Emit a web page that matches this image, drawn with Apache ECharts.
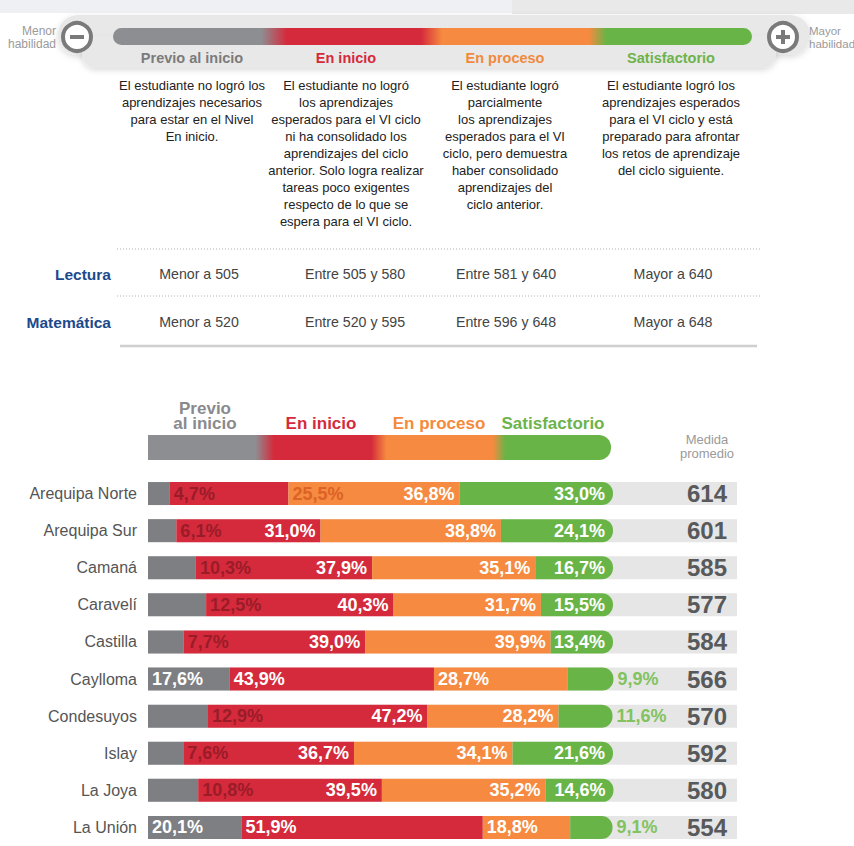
<!DOCTYPE html>
<html>
<head>
<meta charset="utf-8">
<script src="https://cdn.jsdelivr.net/npm/echarts@6/dist/echarts.min.js"></script>
<style>
  html, body { margin: 0; padding: 0; background: #fff; overflow: hidden; }
  #chart { width: 854px; height: 846px; }
</style>
</head>
<body>
<div id="chart"></div>
<script>
(function() {
  // --- data ---
  var regions = ['Arequipa Norte', 'Arequipa Sur', 'Camaná', 'Caravelí', 'Castilla', 'Caylloma', 'Condesuyos', 'Islay', 'La Joya', 'La Unión'];
  var previo = [4.7, 6.1, 10.3, 12.5, 7.7, 17.6, 12.9, 7.6, 10.8, 20.1];
  var enInicio = [25.5, 31.0, 37.9, 40.3, 39.0, 43.9, 47.2, 36.7, 39.5, 51.9];
  var enProceso = [36.8, 38.8, 35.1, 31.7, 39.9, 28.7, 28.2, 34.1, 35.2, 18.8];
  var satisfactorio = [33.0, 24.1, 16.7, 15.5, 13.4, 9.9, 11.6, 21.6, 14.6, 9.1];
  var medida = [614, 601, 585, 577, 584, 566, 570, 592, 580, 554];

  var levels = ['Previo al inicio', 'En inicio', 'En proceso', 'Satisfactorio'];
  var levelDesc = [
    'El estudiante no logró los\naprendizajes necesarios\npara estar en el Nivel\nEn inicio.',
    'El estudiante no logró\nlos aprendizajes\nesperados para el VI ciclo\nni ha consolidado los\naprendizajes del ciclo\nanterior. Solo logra realizar\ntareas poco exigentes\nrespecto de lo que se\nespera para el VI ciclo.',
    'El estudiante logró\nparcialmente\nlos aprendizajes\nesperados para el VI\nciclo, pero demuestra\nhaber consolidado\naprendizajes del\nciclo anterior.',
    'El estudiante logró los\naprendizajes esperados\npara el VI ciclo y está\npreparado para afrontar\nlos retos de aprendizaje\ndel ciclo siguiente.'
  ];
  var lectura = ['Menor a 505', 'Entre 505 y 580', 'Entre 581 y 640', 'Mayor a 640'];
  var matematica = ['Menor a 520', 'Entre 520 y 595', 'Entre 596 y 648', 'Mayor a 648'];

  // label placement per cell: i = inside right, o = outside right, l = inside left
  var labelModes = [
    'ooii', 'oiii', 'oiii', 'oiii', 'oiii', 'lllo', 'oiio', 'oiii', 'oiii', 'lllo'
  ];

  var font = "'Liberation Sans', Arial, sans-serif";
  var gray = '#7e7f83', red = '#d52a3b', orange = '#f58a40', green = '#69b447';
  var segColors = [gray, red, orange, green];
  var outColors = ['#9a1c29', '#dc6226', '#dc6226', '#82c25f'];
  var colX = [192, 346, 505, 671];

  function fmt(v) { return v.toFixed(1).replace('.', ',') + '%'; }

  function buildData(values, k) {
    return values.map(function(v, r) {
      var m = labelModes[r].charAt(k);
      var lab;
      if (m === 'o') lab = { position: 'right', distance: 4, color: outColors[k] };
      else if (m === 'l') lab = { position: 'insideLeft', distance: 4, color: '#fff' };
      else lab = { position: 'insideRight', distance: k === 3 ? 8 : 5, color: '#fff' };
      return { value: v, label: lab };
    });
  }

  function grad(stops) {
    return { type: 'linear', x: 0, y: 0, x2: 1, y2: 0, colorStops: stops };
  }
  var gradStops = [
    { offset: 0, color: '#8d8e92' }, { offset: 0.232, color: '#8d8e92' },
    { offset: 0.272, color: red }, { offset: 0.482, color: red },
    { offset: 0.515, color: orange }, { offset: 0.745, color: orange },
    { offset: 0.772, color: green }, { offset: 1, color: green }
  ];

  // --- graphic (header, legend, thresholds) ---
  var g = [];
  g.push({ type: 'rect', shape: { x: 0, y: 0, width: 512, height: 13 }, style: { fill: '#eef0f3' }, silent: true });
  g.push({ type: 'rect', shape: { x: 512, y: 0, width: 342, height: 14 }, style: { fill: '#e9e9e9' }, silent: true });
  g.push({ type: 'rect', shape: { x: 58, y: 15, width: 752, height: 40, r: 20 },
    style: { fill: '#e8e8e8', shadowBlur: 6, shadowColor: 'rgba(0,0,0,0.15)', shadowOffsetY: 2 }, silent: true });
  g.push({ type: 'rect', shape: { x: 82, y: 38, width: 694, height: 30, r: 14 },
    style: { fill: '#e8e8e8', shadowBlur: 6, shadowColor: 'rgba(0,0,0,0.15)', shadowOffsetY: 2 }, silent: true });
  g.push({ type: 'rect', shape: { x: 82, y: 36, width: 694, height: 20 }, style: { fill: '#e8e8e8' }, silent: true });
  g.push({ type: 'rect', shape: { x: 113, y: 28, width: 639, height: 17, r: 8.5 }, style: { fill: grad(gradStops) }, silent: true });
  // minus / plus circles
  [77, 783].forEach(function(cx, i) {
    g.push({ type: 'circle', shape: { cx: cx, cy: 37, r: 14 }, style: { fill: '#fff', stroke: '#7a7a7a', lineWidth: 4 }, silent: true });
    g.push({ type: 'line', shape: { x1: cx - 7, y1: 37, x2: cx + 7, y2: 37 }, style: { stroke: '#7a7a7a', lineWidth: 4 }, silent: true });
    if (i === 1) g.push({ type: 'line', shape: { x1: cx, y1: 30, x2: cx, y2: 44 }, style: { stroke: '#7a7a7a', lineWidth: 4 }, silent: true });
  });
  g.push({ type: 'text', x: 56, y: 37, style: { text: 'Menor\nhabilidad', font: '12px ' + font, fill: '#9a9a9a', align: 'right', verticalAlign: 'middle', lineHeight: 13 }, silent: true });
  g.push({ type: 'text', x: 809, y: 37, style: { text: 'Mayor\nhabilidad', font: '11.5px ' + font, fill: '#9a9a9a', align: 'left', verticalAlign: 'middle', lineHeight: 13 }, silent: true });

  var topLabelColors = ['#7b7b7b', '#d42a3b', '#f08a3c', '#6db34b'];
  levels.forEach(function(t, i) {
    g.push({ type: 'text', x: colX[i], y: 58, style: { text: t, font: 'bold 14.5px ' + font, fill: topLabelColors[i], align: 'center', verticalAlign: 'middle' }, silent: true });
    g.push({ type: 'text', x: colX[i], y: 77, style: { text: levelDesc[i], font: '13px ' + font, fill: '#222', align: 'center', verticalAlign: 'top', lineHeight: 17 }, silent: true });
  });

  // threshold table
  [249, 296].forEach(function(y) {
    g.push({ type: 'line', shape: { x1: 117, y1: y, x2: 760, y2: y }, style: { stroke: '#b0b0b0', lineWidth: 1, lineDash: [1, 2] }, silent: true });
  });
  g.push({ type: 'line', shape: { x1: 120, y1: 346, x2: 757, y2: 346 }, style: { stroke: '#cfcfcf', lineWidth: 2.5 }, silent: true });
  var tableCols = [199, 355, 506, 673];
  [['Lectura', lectura, 274], ['Matemática', matematica, 322]].forEach(function(row) {
    g.push({ type: 'text', x: 111, y: row[2], style: { text: row[0], font: 'bold 15.5px ' + font, fill: '#1b4a8c', align: 'right', verticalAlign: 'middle' }, silent: true });
    row[1].forEach(function(t, i) {
      g.push({ type: 'text', x: tableCols[i], y: row[2], style: { text: t, font: '14.2px ' + font, fill: '#444', align: 'center', verticalAlign: 'middle' }, silent: true });
    });
  });

  // bottom chart legend header
  var hdrX = [205, 321, 439, 553];
  var hdrText = ['al inicio', 'En inicio', 'En proceso', 'Satisfactorio'];
  var hdrColors = ['#8a8a8c', '#d42a3b', '#f58a3c', '#6db34b'];
  g.push({ type: 'text', x: hdrX[0], y: 408, style: { text: 'Previo', font: 'bold 17px ' + font, fill: hdrColors[0], align: 'center', verticalAlign: 'middle' }, silent: true });
  hdrText.forEach(function(t, i) {
    g.push({ type: 'text', x: hdrX[i], y: 423, style: { text: t, font: 'bold 17px ' + font, fill: hdrColors[i], align: 'center', verticalAlign: 'middle' }, silent: true });
  });
  g.push({ type: 'rect', shape: { x: 148, y: 435, width: 463, height: 25, r: [0, 12, 12, 0] }, style: { fill: grad(gradStops) }, silent: true });
  g.push({ type: 'text', x: 707, y: 446, style: { text: 'Medida\npromedio', font: '13px ' + font, fill: '#9a9a9a', align: 'center', verticalAlign: 'middle', lineHeight: 14 }, silent: true });

  var chart = echarts.init(document.getElementById('chart'), null, { renderer: 'svg' });

  var labelBase = { show: true, fontFamily: font, fontSize: 18, fontWeight: 'bold', formatter: function(p) { return fmt(p.value); } };
  var seriesVals = [previo, enInicio, enProceso, satisfactorio];

  chart.setOption({
    animation: false,
    graphic: g,
    grid: { left: 148, top: 475, width: 589, height: 381 },
    xAxis: { type: 'value', min: 0, max: 126.67, show: false },
    yAxis: [
      {
        type: 'category', data: regions, inverse: true,
        axisLine: { show: false }, axisTick: { show: false },
        axisLabel: { color: '#555', fontSize: 16, fontFamily: font, margin: 11 }
      },
      {
        type: 'category', data: medida.map(String), inverse: true, position: 'right', z: 10,
        axisLine: { show: false }, axisTick: { show: false },
        axisLabel: { inside: true, color: '#58595b', fontSize: 24, fontWeight: 'bold', fontFamily: font, margin: 10 }
      }
    ],
    series: seriesVals.map(function(vals, k) {
      var s = {
        name: levels[k],
        type: 'bar',
        stack: 'total',
        barWidth: 23,
        data: buildData(vals, k),
        itemStyle: { color: segColors[k] },
        label: labelBase
      };
      if (k === 0) {
        s.showBackground = true;
        s.backgroundStyle = { color: '#e6e6e6' };
      }
      if (k === 3) s.itemStyle.borderRadius = [0, 11, 11, 0];
      return s;
    })
  });
})();
</script>
</body>
</html>
